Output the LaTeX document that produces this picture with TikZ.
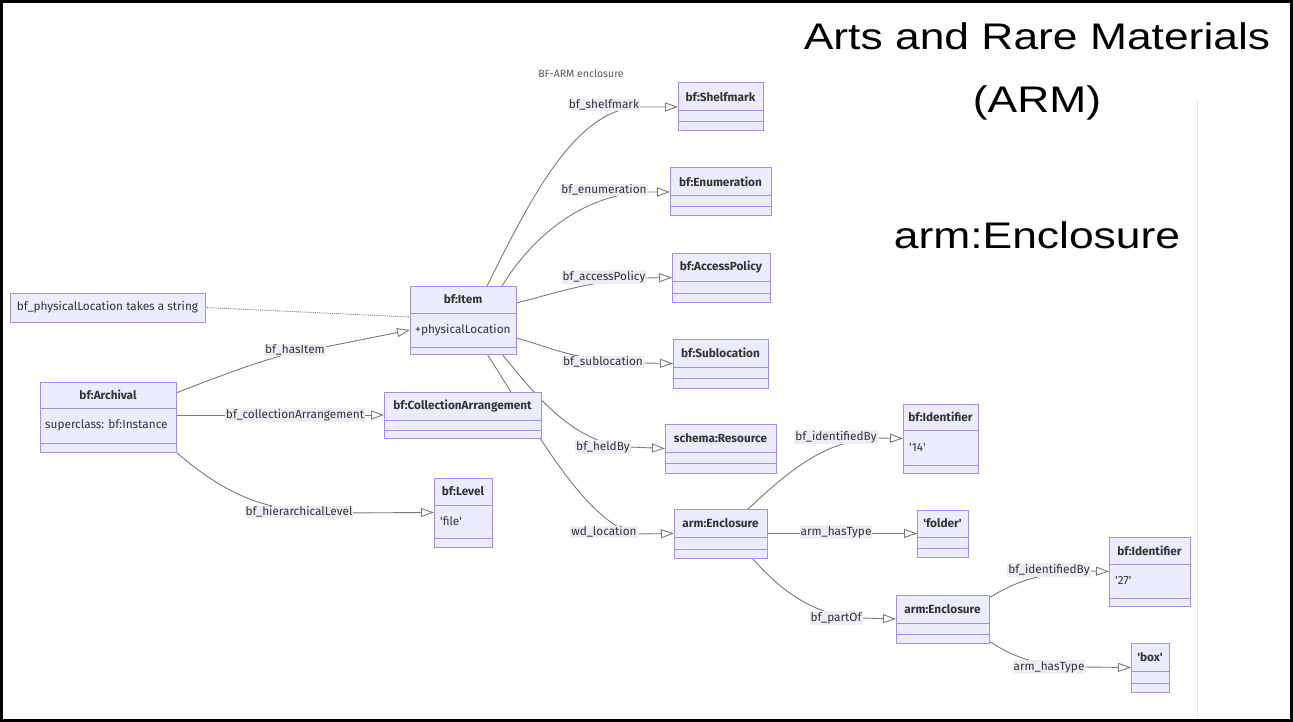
\documentclass[tikz,border=0pt]{standalone}
\usepackage{fontspec}
\setmainfont{Fira Sans}
\newfontfamily\headfont{Liberation Sans}
\usetikzlibrary{arrows.meta,calc,fit}
\pgfdeclarelayer{paper}
\pgfdeclarelayer{edges}
\pgfsetlayers{paper,edges,main}

\definecolor{boxfill}{HTML}{ECECFF}
\definecolor{boxline}{HTML}{A391E4}
\definecolor{edgecol}{HTML}{7A7A7A}
\definecolor{labelbg}{HTML}{EDEDF5}
\definecolor{txt}{HTML}{333333}

\tikzset{
  clsbox/.style={draw=boxline, fill=boxfill, line width=1pt, inner sep=0pt, outer sep=0pt},
  clssep/.style={draw=boxline, line width=1pt},
  clstitle/.style={font=\fontsize{11.8}{13}\selectfont\bfseries, text=txt, inner sep=0pt},
  clsattr/.style={font=\fontsize{11.8}{13}\selectfont, text=txt, inner sep=0pt, anchor=west},
  rel/.style={draw=edgecol, line width=0.9pt, -{Triangle[open, length=13pt, width=9pt]}},
  notelink/.style={draw=edgecol, line width=0.9pt, densely dotted},
  rellabel/.style={fill=labelbg, text=txt, font=\fontsize{11.8}{13}\selectfont, inner sep=1pt},
  headline/.style={font=\headfont\fontsize{37}{40}\selectfont, anchor=base, inner sep=0pt},
}

% class box: name, left, top, right, bottom, first divider, second divider, title
\newcommand{\umlclass}[8]{%
  \node[clsbox, fit={(#2,#3) (#4,#5)}] (#1) {};
  \draw[clssep] (#2,#6) -- (#4,#6) (#2,#7) -- (#4,#7);
  \node[clstitle] (#1-name) at ({(#2+#4)/2},{(#3+#6)/2}) {#8};
}

\begin{document}
\begin{tikzpicture}[x=1pt,y=-1pt]
\useasboundingbox (0,0) rectangle (1293,722);
\begin{pgfonlayer}{paper}
\fill[white] (0,0) rectangle (1293,722);
% thin rule at the right
\draw[black!10, line width=0.8pt] (1197,100) -- (1197,722);
\end{pgfonlayer}

% headings
\node[headline] (head1) at (1037,50) {\scalebox{1.2}[1]{Arts and Rare Materials}};
\node[headline] (head2) at (1037,113) {\scalebox{1.2}[1]{(ARM)}};
\node[headline] (head3) at (1037,248) {\scalebox{1.2}[1]{arm:Enclosure}};

% diagram title
\node[font=\fontsize{10.5}{12}\selectfont, text=black!65] (dtitle) at (581,74) {BF-ARM enclosure};

% note
\node[clsbox, fit={(10,293) (205,322)}] (note) {};
\node[font=\fontsize{11.8}{13}\selectfont, text=txt] (note-text) at (note.center) {bf\_physicalLocation takes a string};

% classes
\umlclass{item}{410}{286}{516}{354}{313}{347}{bf:Item}
\node[clsattr] (item-attr) at (415,330) {+physicalLocation};

\umlclass{archival}{40}{382}{176}{452}{408}{443}{bf:Archival}
\node[clsattr] (archival-attr) at (45,425) {superclass: bf:Instance};

\umlclass{coll}{384}{392}{541}{438}{420}{430}{bf:CollectionArrangement}
\umlclass{level}{434}{478}{492}{547}{505}{538}{bf:Level}
\node[clsattr] (level-attr) at (440,521) {\textquotesingle file\textquotesingle};

\umlclass{shelf}{678}{83}{763}{131}{111}{122}{bf:Shelfmark}
\umlclass{enum}{670}{168}{771}{216}{196}{207}{bf:Enumeration}
\umlclass{access}{672}{253}{770}{302}{281}{293}{bf:AccessPolicy}
\umlclass{subloc}{673}{339}{768}{388}{367}{378}{bf:Sublocation}
\umlclass{resource}{665}{424}{776}{473}{452}{463}{schema:Resource}
\umlclass{encA}{674}{509}{767}{558}{537}{549}{arm:Enclosure}

\umlclass{identA}{903}{404}{978}{473}{430}{465}{bf:Identifier}
\node[clsattr] (identA-attr) at (909,447) {\textquotesingle 14\textquotesingle};
\umlclass{folder}{917}{510}{968}{557}{537}{548}{\textquotesingle folder\textquotesingle}

\umlclass{encB}{896}{595}{989}{643}{623}{634}{arm:Enclosure}
\umlclass{identB}{1109}{537}{1190}{606}{564}{598}{bf:Identifier}
\node[clsattr] (identB-attr) at (1115,580) {\textquotesingle 27\textquotesingle};
\umlclass{boxv}{1131}{643}{1169}{692}{671}{683}{\textquotesingle box\textquotesingle}

% connectors, kept beneath the boxes
\begin{pgfonlayer}{edges}
\draw[notelink] (note.east) -- ($(item.west)+(0,-3)$);
\draw[rel] ($(archival.north east)+(0,11)$) .. controls (240,368) and (290,350) .. (325,347) -- ($(item.west)+(0,10)$);
\draw[rel] (archival.east |- coll.west) -- (coll.west);
\draw[rel] (archival.south east) .. controls (220,490) and (260,512) .. (330,513) -- (level.west);

\draw[rel] ($(item.north west)+(77,0)$) .. controls (530,200) and (575,108) .. (640,107) -- (shelf.west);
\draw[rel] ($(item.north west)+(92,0)$) .. controls (530,240) and (580,194) .. (647,192) -- (enum.west);
\draw[rel] ($(item.north east)+(0,17)$) .. controls (550,295) and (590,280) .. (646,278) -- (access.west);
\draw[rel] ($(item.north east)+(0,52)$) .. controls (545,345) and (575,362) .. (643,363) -- (subloc.west);
\draw[rel] ($(item.south west)+(92,0)$) .. controls (535,395) and (575,445) .. (630,447) -- (resource.west);
\draw[rel] ($(item.south west)+(77,0)$) .. controls (530,420) and (585,525) .. (637,534) -- (encA.west);

\draw[rel] ($(encA.north east)+(-19,0)$) .. controls (790,470) and (825,440) .. (878,438) -- (identA.west);
\draw[rel] (encA.east) -- (folder.west);
\draw[rel] ($(encA.south east)+(-15,0)$) .. controls (780,590) and (815,617) .. (862,618) -- (encB.west);

\draw[rel] ($(encB.north east)+(0,3)$) .. controls (1010,585) and (1035,572) .. (1090,571) -- (identB.west);
\draw[rel] ($(encB.south east)+(0,-2)$) .. controls (1010,655) and (1035,667) .. (1084,667) -- (boxv.west);
\end{pgfonlayer}

% connector labels
\node[rellabel] (l-hasitem) at (295,350) {bf\_hasItem};
\node[rellabel] (l-coll) at (295,415) {bf\_collectionArrangement};
\node[rellabel] (l-level) at (299,512) {bf\_hierarchicalLevel};
\node[rellabel] (l-shelf) at (604,105) {bf\_shelfmark};
\node[rellabel] (l-enum) at (604,190) {bf\_enumeration};
\node[rellabel] (l-access) at (604,277) {bf\_accessPolicy};
\node[rellabel] (l-subloc) at (603,362) {bf\_sublocation};
\node[rellabel] (l-held) at (603,447) {bf\_heldBy};
\node[rellabel] (l-loc) at (604,532) {wd\_location};
\node[rellabel] (l-identA) at (836,437) {bf\_identifiedBy};
\node[rellabel] (l-typeA) at (836,532) {arm\_hasType};
\node[rellabel] (l-part) at (836,618) {bf\_partOf};
\node[rellabel] (l-identB) at (1049,570) {bf\_identifiedBy};
\node[rellabel] (l-typeB) at (1049,667) {arm\_hasType};

% frame
\draw[black, line width=2.5pt] (1.5,1.5) rectangle (1291.5,720.5);
\end{tikzpicture}
\end{document}
